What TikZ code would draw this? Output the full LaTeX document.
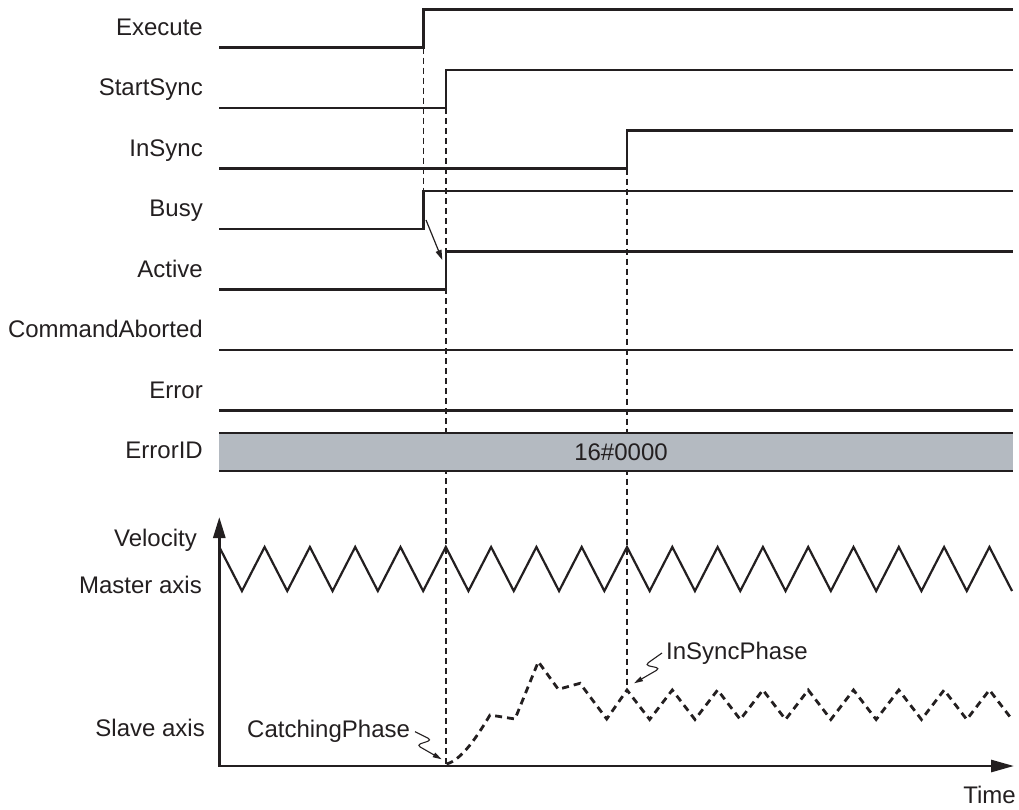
\documentclass[tikz,border=0pt]{standalone}
\usepackage{fontspec}
\setmainfont{Liberation Sans}
\usetikzlibrary{arrows.meta}
\definecolor{ink}{HTML}{231F20}
\definecolor{bargray}{HTML}{B4BAC1}
\begin{document}
\begin{tikzpicture}[x=1pt,y=-1pt,
  lbl/.style={anchor=base east, inner sep=0pt, font=\fontsize{24}{28}\selectfont, text=ink},
  lblw/.style={lbl, anchor=base west},
  sig/.style={line width=2.9pt, draw=ink, line join=miter, line cap=butt},
  guide/.style={line width=1.2pt, draw=ink, dash pattern=on 6pt off 4pt},
  wave/.style={line width=2.2pt, draw=ink, line join=miter},
  slave/.style={line width=2.8pt, draw=ink, dash pattern=on 7pt off 5pt, line join=miter},
  axis/.style={line width=2.8pt, draw=ink, {Triangle[length=21pt,width=12pt]}-{Triangle[length=23pt,width=12pt]}},
  pointer/.style={line width=1.2pt, draw=ink, -{Triangle[length=10pt,width=6pt]}},
  squig/.style={line width=1.1pt, draw=ink, rounded corners=4pt, -{Triangle[length=9pt,width=5pt]}}]
\useasboundingbox (0,0) rectangle (1019,809);

% labels
\node[lbl] (lExecute) at (203,35) {Execute};
\node[lbl] (lStartSync) at (203,95.5) {StartSync};
\node[lbl] (lInSync) at (203,156) {InSync};
\node[lbl] (lBusy) at (203,216.5) {Busy};
\node[lbl] (lActive) at (203,277) {Active};
\node[lbl] (lAborted) at (203,337.5) {CommandAborted};
\node[lbl] (lError) at (203,398) {Error};
\node[lbl] (lErrorID) at (203,458) {ErrorID};
\node[lbl] (lVelocity) at (197,546.7) {Velocity};
\node[lbl] (lMaster) at (202,593.3) {Master axis};
\node[lbl] (lSlave) at (205,736.7) {Slave axis};
\node[lbl] (lTime) at (1016,803) {Time};

% guides
\draw[guide] (423.3,47.7) -- (423.3,191);
\draw[guide] (446,108) -- (446,766);
\draw[guide] (627,168.5) -- (627,690);

% ErrorID bar
\fill[bargray] (219,433) rectangle (1013,471);
\draw[sig] (219,433) -- (1013,433);
\draw[sig] (219,471) -- (1013,471);
\node[lbl, anchor=base] (vErrorID) at (621,460) {16\#0000};

% signals
\draw[sig] (219,47.7) -- (423.3,47.7) -- (423.3,9.7) -- (1013,9.7);
\draw[sig] (219,108) -- (446,108) -- (446,70) -- (1013,70);
\draw[sig] (219,168.5) -- (627,168.5) -- (627,130.5) -- (1013,130.5);
\draw[sig] (219,229) -- (423.3,229) -- (423.3,191) -- (1013,191);
\draw[sig] (219,289.3) -- (446,289.3) -- (446,251.3) -- (1013,251.3);
\draw[sig] (219,350) -- (1013,350);
\draw[sig] (219,410.5) -- (1013,410.5);

% Busy -> Active
\coordinate (busyEdge) at (426,220);
\coordinate (activeEdge) at (442.3,260);
\draw[pointer] (busyEdge) -- (activeEdge);

% axes
\coordinate (origin) at (219.3,766);
\draw[axis] (219.3,517) -- (origin) -- (1014,766);

% master wave
\draw[wave] (219.3,547) foreach \k in {0,...,16} { -- ++(22.65,44) -- ++(22.65,-44) } -- ++(22.65,44);

% slave curve
\draw[slave] (446.5,764) .. controls (462,760) and (478,735) .. (490,715) -- (515,719) -- (538.3,661.7) -- (558.3,689.3) -- (580,683.3) -- (606.7,719) -- (627,690)
  foreach \k in {0,...,7} { -- ++(22.65,29.5) -- ++(22.65,-29.5) } -- ++(22.65,29.5);

% phase labels
\node[lblw] (lInSyncPhase) at (666,659) {InSyncPhase};
\node[lblw] (lCatching) at (247,737) {CatchingPhase};
\coordinate (inSyncPt) at (634,683.3);
\coordinate (catchPt) at (441.7,759.3);
\draw[squig] (662,653) -- (645,665) -- (660,668.3) -- (inSyncPt);
\draw[squig] (415,731.7) -- (431.7,740) -- (416.7,745) -- (catchPt);
\end{tikzpicture}
\end{document}
